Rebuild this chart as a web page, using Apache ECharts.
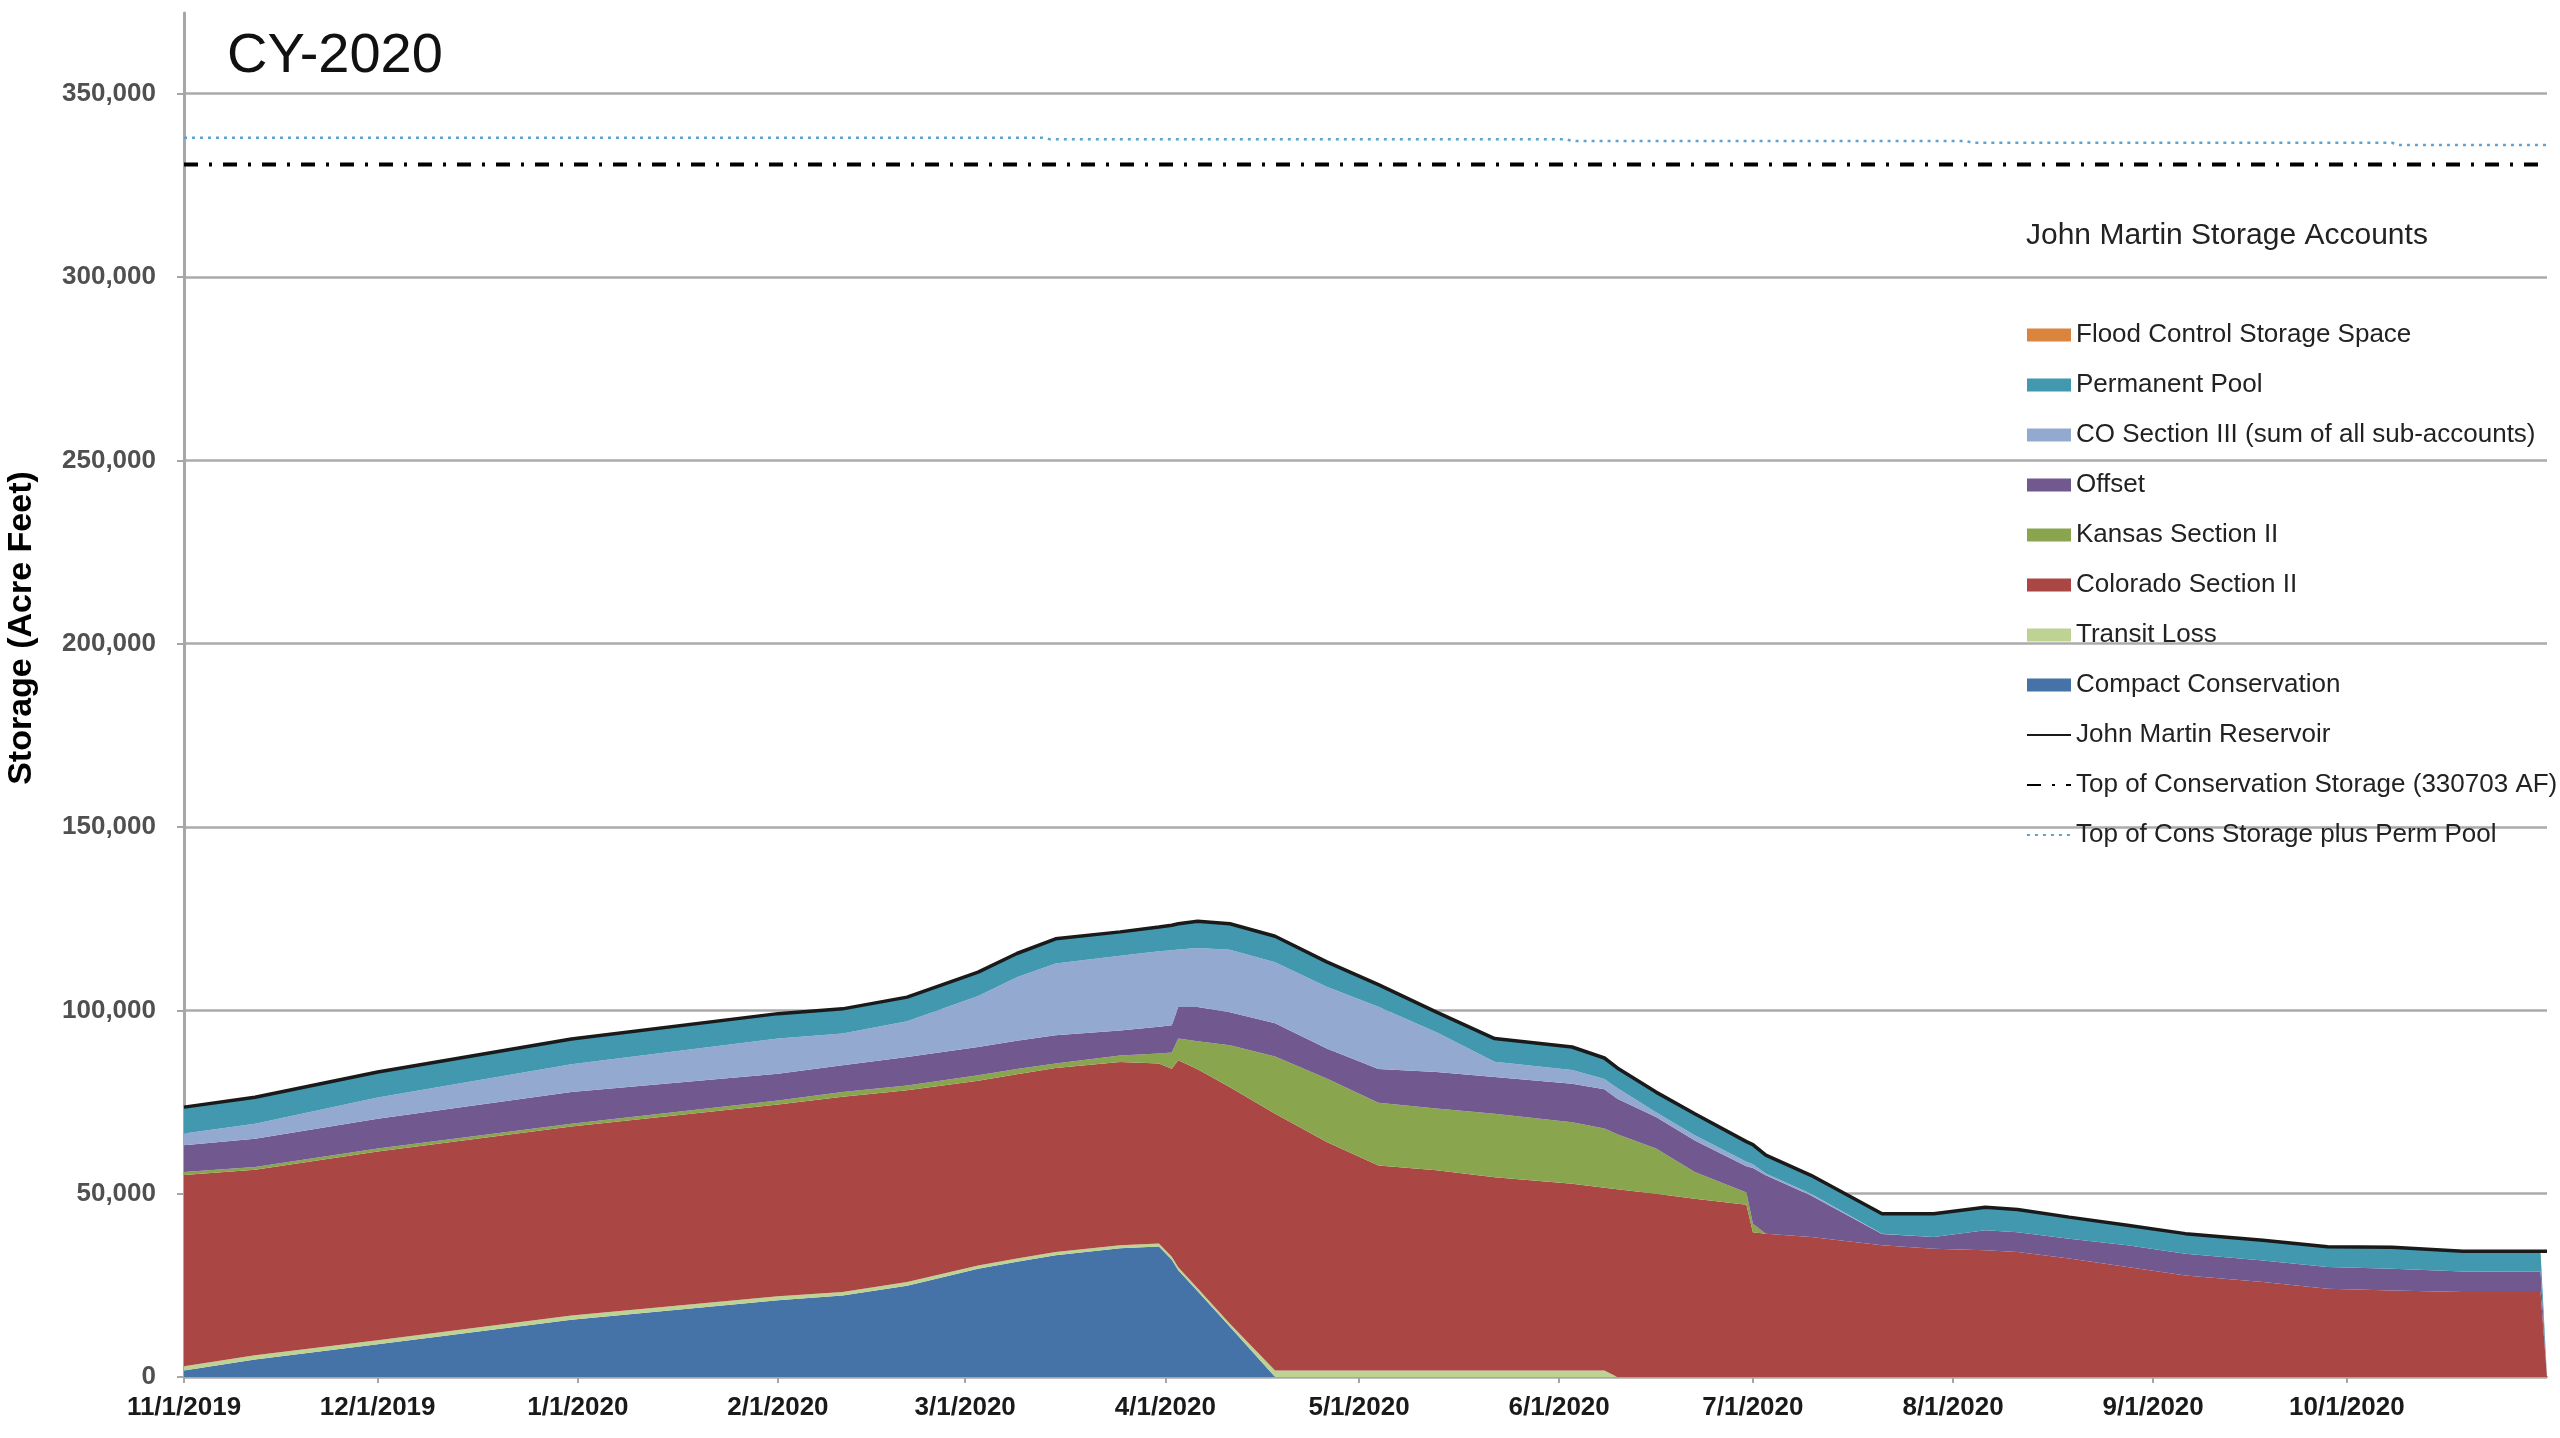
<!DOCTYPE html>
<html>
<head>
<meta charset="utf-8">
<script src="https://cdn.jsdelivr.net/npm/echarts@6/dist/echarts.min.js"></script>
<style>
  html, body { margin: 0; padding: 0; background: #ffffff; }
  #chart { width: 2560px; height: 1438px; }
</style>
</head>
<body>
<div id="chart"></div>
<script>
// ---------------- DATA ----------------
const dates = [
  '2019-11-01','2019-11-12','2019-12-01','2019-12-31','2020-02-01','2020-02-11','2020-02-21',
  '2020-03-03','2020-03-09','2020-03-15','2020-03-25','2020-03-31','2020-04-02','2020-04-03',
  '2020-04-06','2020-04-11','2020-04-18','2020-04-26','2020-05-04','2020-05-13','2020-05-22',
  '2020-06-03','2020-06-08','2020-06-10','2020-06-16','2020-06-22','2020-06-30','2020-07-01',
  '2020-07-03','2020-07-10','2020-07-21','2020-07-29','2020-08-06','2020-08-11','2020-08-19',
  '2020-08-28','2020-09-06','2020-09-18','2020-09-28','2020-10-08','2020-10-19','2020-10-31',
  '2020-11-01'
];
const compactConservation = [
  1800, 4800, 8900, 15600, 20900, 22200, 24900,
  29500, 31400, 33200, 35100, 35600, 32000, 29100,
  23400, 13700, 0, 0, 0, 0, 0,
  0, 0, 0, 0, 0, 0, 0,
  0, 0, 0, 0, 0, 0, 0,
  0, 0, 0, 0, 0, 0, 0,
  0
];
const transitLoss = [
  1100, 1100, 1100, 1200, 1100, 1000, 1000,
  900, 900, 900, 800, 800, 800, 800,
  800, 800, 1800, 1800, 1800, 1800, 1800,
  1800, 1800, 0, 0, 0, 0, 0,
  0, 0, 0, 0, 0, 0, 0,
  0, 0, 0, 0, 0, 0, 0,
  0
];
const coloradoSectionII = [
  52200, 50600, 51500, 51500, 52300, 53200, 52300,
  50400, 50300, 50200, 50000, 49100, 51300, 56500,
  59700, 64500, 70000, 62300, 55900, 54600, 52700,
  50900, 49800, 51200, 50000, 48600, 47000, 39500,
  39100, 38200, 35900, 35000, 34600, 34100, 32300,
  30000, 27700, 25900, 24100, 23600, 23200, 23200,
  0
];
const kansasSectionII = [
  800, 800, 800, 800, 1100, 1300, 1300,
  1500, 1400, 1200, 1800, 2700, 4400, 5900,
  7700, 11500, 15600, 17300, 17100, 16800, 17300,
  16800, 16200, 15000, 12300, 7300, 3300, 2300,
  0, 0, 0, 0, 0, 0, 0,
  0, 0, 0, 0, 0, 0, 0,
  0
];
const offsetAcct = [
  7300, 7700, 8100, 8600, 7300, 7300, 7800,
  7700, 7700, 7700, 6800, 7300, 7400, 8600,
  9300, 9000, 9100, 8200, 9200, 10000, 10000,
  10500, 10700, 9700, 8600, 8600, 7200, 15200,
  15900, 11300, 3100, 3200, 5400, 5400, 5400,
  5900, 5900, 5900, 5900, 5900, 5600, 5500,
  0
];
const coSectionIII = [
  3200, 4100, 5800, 7600, 9600, 8700, 9700,
  13900, 17300, 19600, 20400, 20600, 20500, 15700,
  16100, 17000, 16600, 16800, 17000, 10800, 4200,
  3700, 2800, 2900, 1300, 1400, 1200, 1000,
  500, 500, 100, 0, 0, 0, 0,
  0, 0, 0, 0, 0, 0, 0,
  0
];
const permanentPool = [
  7200, 7200, 7000, 6900, 6800, 6700, 6600,
  6500, 6500, 6700, 6500, 6600, 6800, 7000,
  7300, 7100, 7100, 6800, 6000, 5500, 6300,
  6300, 5700, 5500, 5500, 5900, 5500, 5400,
  5000, 5000, 5400, 6300, 6300, 6200, 5900,
  5500, 5500, 5500, 5500, 5900, 5500, 5600,
  0
];
const floodControl = [
  0, 0, 0, 0, 0, 0, 0,
  0, 0, 0, 0, 0, 0, 0,
  0, 0, 0, 0, 0, 0, 0,
  0, 0, 0, 0, 0, 0, 0,
  0, 0, 0, 0, 0, 0, 0,
  0, 0, 0, 0, 0, 0, 0,
  0
];
// John Martin Reservoir total (black line)
const reservoirTotal = [
  73600, 76300, 83200, 92200, 99100, 100400, 103600,
  110400, 115500, 119500, 121400, 122700, 123200, 123600,
  124300, 123600, 120200, 113200, 107000, 99500, 92300,
  90000, 87000, 84300, 77700, 71800, 64200, 63400,
  60500, 55000, 44500, 44500, 46300, 45700, 43600,
  41400, 39100, 37300, 35500, 35400, 34300, 34300,
  34300
];
const consDates = ['2019-11-01', '2020-11-01'];
const topConservation = [330703, 330703];
const permDates = ['2019-11-01','2020-03-13','2020-03-14','2020-06-02','2020-06-03',
                   '2020-08-03','2020-08-04','2020-10-08','2020-10-09','2020-11-01'];
const topConsPlusPerm = [338000, 338000, 337600, 337600, 337100, 337100, 336600, 336600, 336000, 336000];

const xTickLabels = ['11/1/2019','12/1/2019','1/1/2020','2/1/2020','3/1/2020','4/1/2020',
                     '5/1/2020','6/1/2020','7/1/2020','8/1/2020','9/1/2020','10/1/2020'];

// ---------------- helpers ----------------
const DAY = 86400000;
const isoOf = t => new Date(t).toISOString().slice(0, 10);
// daily category axis, 11/1/2019 .. 11/1/2020
const days = [];
for (let t = Date.UTC(2019, 10, 1); t <= Date.UTC(2020, 10, 1); t += DAY) days.push(isoOf(t));
const labelMap = {};
xTickLabels.forEach(s => {
  const [m, d, y] = s.split('/').map(Number);
  labelMap[isoOf(Date.UTC(y, m - 1, d))] = s;
});
const isTick = (idx, val) => labelMap[val] !== undefined;
const pair = (ds, vs) => ds.map((d, i) => [d, vs[i]]);

const FONT = '"Liberation Sans", Arial, Helvetica, sans-serif';

const areaDefs = [
  ['Compact Conservation', compactConservation, '#4572A7'],
  ['Transit Loss', transitLoss, '#BDD293'],
  ['Colorado Section II', coloradoSectionII, '#AA4643'],
  ['Kansas Section II', kansasSectionII, '#89A54E'],
  ['Offset', offsetAcct, '#71588F'],
  ['CO Section III (sum of all sub-accounts)', coSectionIII, '#93A9CF'],
  ['Permanent Pool', permanentPool, '#4198AF'],
  ['Flood Control Storage Space', floodControl, '#DB843D']
];
const colorOf = {};
areaDefs.forEach(a => { colorOf[a[0]] = a[2]; });

const series = areaDefs.map(([name, vals, color]) => ({
  name, type: 'line', stack: 'accounts', data: pair(dates, vals),
  color: color,
  showSymbol: false, symbol: 'none', silent: true,
  lineStyle: { width: 0, color: color },
  itemStyle: { color: color },
  areaStyle: { color: color, opacity: 1 },
  emphasis: { disabled: true },
  z: 2
}));
series.push({
  name: 'John Martin Reservoir', type: 'line', data: pair(dates, reservoirTotal),
  showSymbol: false, symbol: 'none', silent: true, color: '#1a1a1a',
  lineStyle: { color: '#1a1a1a', width: 3.5 }, emphasis: { disabled: true }, z: 4
});
series.push({
  name: 'Top of Conservation Storage (330703 AF)', type: 'line', data: pair(consDates, topConservation),
  showSymbol: false, symbol: 'none', silent: true, color: '#000',
  lineStyle: { color: '#000', width: 4, type: [14, 11, 3, 11] }, emphasis: { disabled: true }, z: 4
});
series.push({
  name: 'Top of Cons Storage plus Perm Pool', type: 'line', data: pair(permDates, topConsPlusPerm),
  showSymbol: false, symbol: 'none', silent: true, color: '#5DA5CE',
  lineStyle: { color: '#5DA5CE', width: 2.5, type: [3, 5] }, emphasis: { disabled: true }, z: 4
});

const legendOrder = [
  'Flood Control Storage Space', 'Permanent Pool', 'CO Section III (sum of all sub-accounts)',
  'Offset', 'Kansas Section II', 'Colorado Section II', 'Transit Loss', 'Compact Conservation'
];
const legendData = legendOrder.map(n => ({
  name: n, icon: 'rect', itemStyle: { color: colorOf[n], opacity: 1, borderWidth: 0 }
})).concat([
  { name: 'John Martin Reservoir', itemStyle: { opacity: 0 } },
  { name: 'Top of Conservation Storage (330703 AF)', itemStyle: { opacity: 0 } },
  { name: 'Top of Cons Storage plus Perm Pool', itemStyle: { opacity: 0 } }
]);

const chart = echarts.init(document.getElementById('chart'), null, { renderer: 'canvas' });
chart.setOption({
  animation: false,
  backgroundColor: '#ffffff',
  textStyle: { fontFamily: FONT },
  title: [
    { text: 'CY-2020', left: 222, top: 24,
      textStyle: { fontSize: 56, fontWeight: 'normal', color: '#111', fontFamily: FONT } },
    { text: 'John Martin Storage Accounts', left: 2021, top: 216,
      textStyle: { fontSize: 30, fontWeight: 'normal', color: '#222', fontFamily: FONT } }
  ],
  grid: { left: 184, right: 13, top: 13, bottom: 61 },
  xAxis: {
    type: 'category', data: days, boundaryGap: false,
    axisLine: { show: true, onZero: false, lineStyle: { color: '#A6A6A6', width: 2 } },
    axisTick: { show: true, interval: isTick, length: 6, lineStyle: { color: '#A6A6A6', width: 2 } },
    axisLabel: { interval: isTick, formatter: v => labelMap[v] || '', hideOverlap: false,
      fontSize: 26, fontWeight: 'bold', color: '#1a1a1a', margin: 18, fontFamily: FONT },
    splitLine: { show: false }
  },
  yAxis: {
    type: 'value', min: 0, max: 372000, interval: 50000,
    axisLine: { show: true, lineStyle: { color: '#A6A6A6', width: 3 } },
    axisTick: { show: true, length: 7, lineStyle: { color: '#A6A6A6', width: 2 } },
    axisLabel: { showMaxLabel: false, formatter: v => v.toLocaleString('en-US'),
      fontSize: 26, fontWeight: 'bold', color: '#505050', margin: 28, fontFamily: FONT },
    splitLine: { show: true, showMaxLine: false, lineStyle: { color: '#ABABAB', width: 2.5 } }
  },
  legend: {
    orient: 'vertical', left: 2021, top: 315,
    itemWidth: 44, itemHeight: 13, itemGap: 20,
    selectedMode: false,
    textStyle: { fontSize: 26, color: '#222', lineHeight: 30, fontFamily: FONT },
    data: legendData
  },
  graphic: [{
    type: 'text', x: 22, y: 628, rotation: Math.PI / 2,
    style: { text: 'Storage (Acre Feet)', font: 'bold 34px ' + FONT, fill: '#000',
             align: 'center', verticalAlign: 'middle' }
  }],
  series: series
});
</script>
</body>
</html>
